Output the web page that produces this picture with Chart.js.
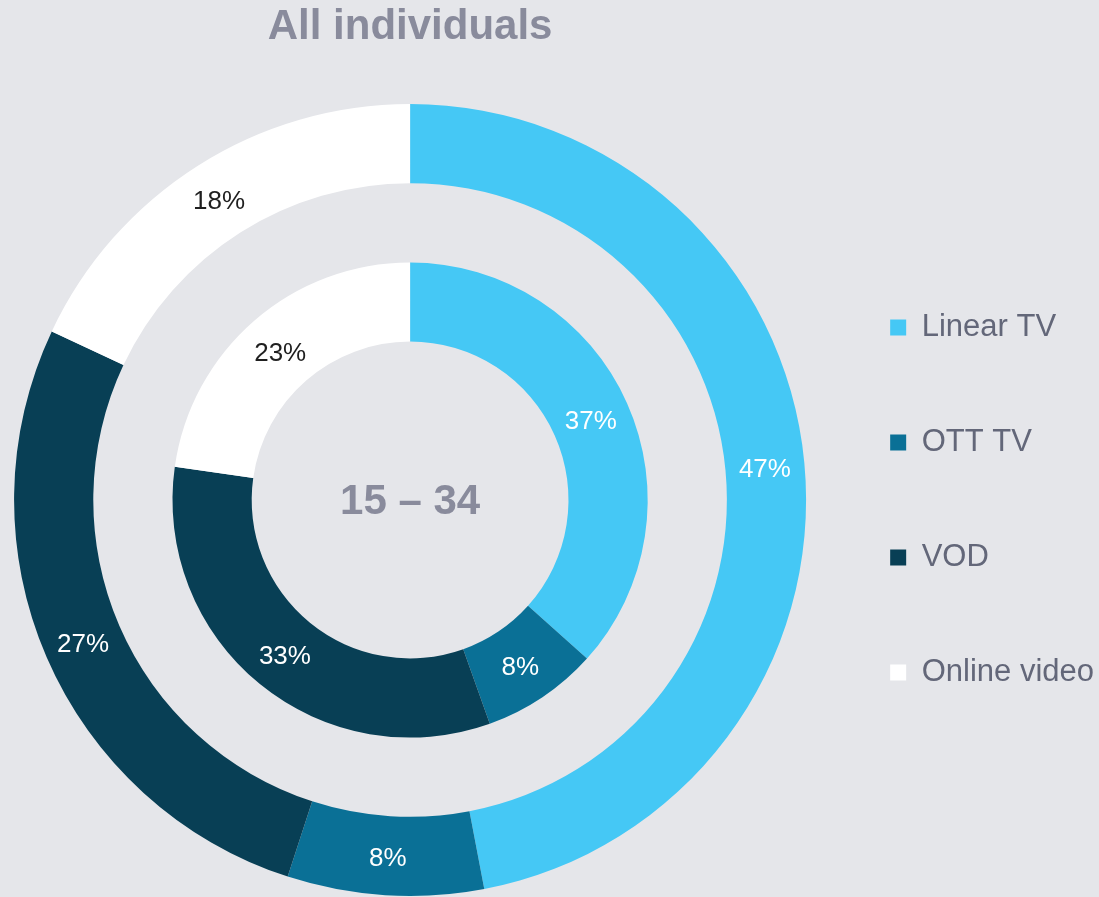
<!DOCTYPE html>
<html>
<head>
<meta charset="utf-8">
<title>All individuals</title>
<script src="https://cdn.jsdelivr.net/npm/chart.js@4/dist/chart.umd.min.js"></script>
<style>
  html, body { margin: 0; padding: 0; background: #e5e6ea; }
  #wrap { width: 1099px; height: 897px; }
</style>
</head>
<body>
<div id="wrap"><canvas id="chart" width="1099" height="897"></canvas></div>
<script>
const categories = ["Linear TV", "OTT TV", "VOD", "Online video"];
const allIndividuals = [47, 8, 27, 18]; // outer ring
const age15to34 = [37, 8, 33, 23]; // inner ring
const centerLabel = "15 – 34";

const sliceColors = ["#45c8f5", "#0a7096", "#083f55", "#ffffff"];
const labelColors = ["#ffffff", "#ffffff", "#ffffff", "#1f1f1f"];

document.addEventListener("DOMContentLoaded", () => {
  const chartCanvas = document.getElementById("chart");
  Chart.defaults.font.family = "'Liberation Sans', Arial, sans-serif";

  // draws the % on each slice and the age band in the middle
  const sliceLabels = {
    id: "sliceLabels",
    afterDatasetsDraw(chart) {
      const ctx = chart.ctx;
      ctx.save();
      ctx.textAlign = "center";
      ctx.textBaseline = "middle";
      ctx.font = "26px 'Liberation Sans', Arial, sans-serif";
      chart.data.datasets.forEach((ds, di) => {
        if (ds.spacer) return;
        const meta = chart.getDatasetMeta(di);
        meta.data.forEach((arc, i) => {
          const pos = arc.tooltipPosition();
          ctx.fillStyle = labelColors[i];
          ctx.fillText(ds.data[i] + "%", pos.x, pos.y + 3);
        });
      });
      const area = chart.chartArea;
      ctx.font = "bold 42px 'Liberation Sans', Arial, sans-serif";
      ctx.fillStyle = "#898b9c";
      ctx.fillText(centerLabel, (area.left + area.right) / 2, (area.top + area.bottom) / 2 + 2);
      ctx.restore();
    },
  };

  new Chart(chartCanvas.getContext("2d"), {
    type: "doughnut",
    data: {
      labels: categories,
      datasets: [
        { label: "All individuals", data: allIndividuals, backgroundColor: sliceColors },
        { label: "", data: [1], backgroundColor: "rgba(0,0,0,0)", spacer: true }, // gap between rings
        { label: "15 – 34", data: age15to34, backgroundColor: sliceColors },
      ],
    },
    options: {
      responsive: false,
      devicePixelRatio: 1,
      animation: false,
      cutout: "40%",
      borderWidth: 0,
      hoverBorderWidth: 0,
      hoverOffset: 0,
      layout: { padding: { left: 14, right: -5, top: 0, bottom: 1 } },
      plugins: {
        tooltip: { enabled: false },
        title: {
          display: true,
          fullSize: false,
          text: "All individuals",
          color: "#898b9c",
          font: { size: 42, weight: "bold" },
          padding: { top: 2, bottom: 51.6 },
        },
        legend: {
          position: "right",
          fullSize: false,
          labels: {
            color: "#636779",
            font: { size: 31 },
            boxWidth: 16,
            boxHeight: 16,
            padding: 84,
          },
        },
      },
    },
    plugins: [sliceLabels],
  });
});
</script>
</body>
</html>
